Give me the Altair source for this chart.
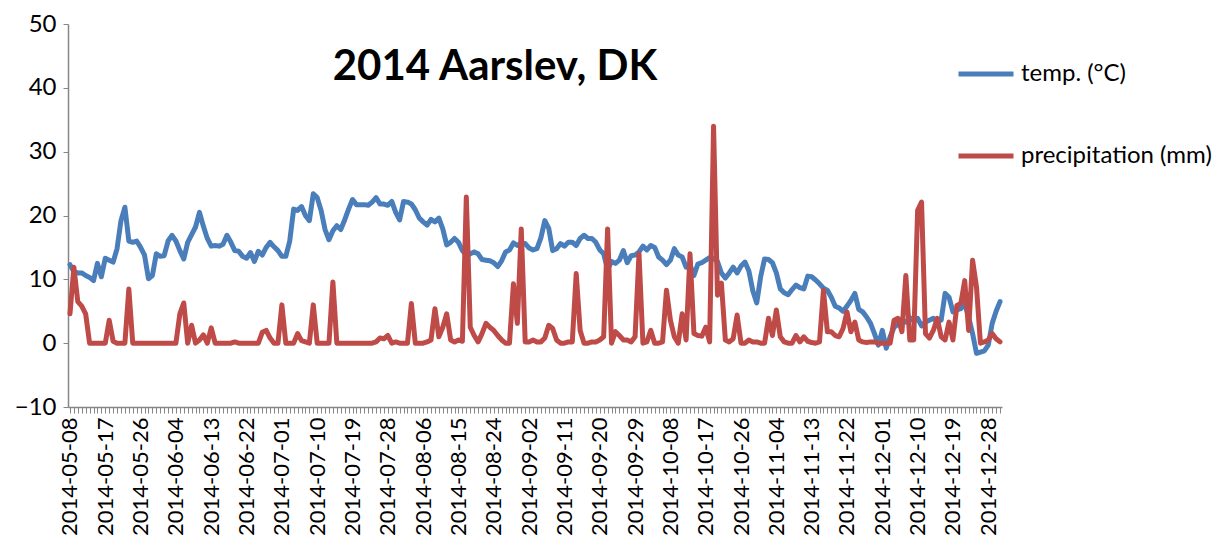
import altair as alt
import pandas as pd

# categories: daily dates 2014-05-08 .. 2014-12-31
dates = [d.strftime("%Y-%m-%d") for d in pd.date_range("2014-05-08", "2014-12-31", freq="D")]

temp = [
    12.3, 11.2, 11.0, 11.0, 10.6, 10.3, 9.8, 12.5, 10.4, 13.3, 13.0, 12.7, 14.8, 19.2, 21.3, 16.0, 15.8, 16.0, 15.0, 13.8,
    10.1, 10.6, 14.0, 13.6, 13.7, 16.0, 16.9, 16.0, 14.5, 13.2, 15.8, 17.0, 18.2, 20.5, 18.3, 16.4, 15.2, 15.3, 15.2, 15.5,
    16.9, 15.8, 14.5, 14.4, 13.6, 13.3, 14.2, 12.8, 14.4, 13.8, 15.0, 15.8, 15.1, 14.5, 13.6, 13.6, 16.0, 21.0, 20.8, 21.4,
    20.0, 19.2, 23.4, 22.8, 20.8, 17.8, 16.2, 17.6, 18.4, 17.8, 19.3, 21.0, 22.5, 21.7, 21.7, 21.7, 21.6, 22.1, 22.8, 21.8,
    21.8, 21.6, 22.2, 20.5, 19.3, 22.2, 22.1, 21.8, 20.9, 19.6, 19.0, 18.5, 19.4, 19.0, 19.6, 17.9, 15.4, 15.8, 16.4, 15.8,
    14.5, 13.8, 14.0, 14.3, 14.0, 13.1, 13.0, 12.9, 12.6, 12.0, 12.9, 14.3, 14.6, 15.7, 15.3, 15.6, 15.6, 14.9, 14.6, 14.8,
    16.5, 19.2, 18.0, 14.5, 14.8, 15.6, 15.2, 15.8, 15.8, 15.3, 16.4, 16.9, 16.4, 16.4, 15.8, 14.6, 14.0, 11.5, 12.8, 12.5,
    13.0, 14.5, 12.6, 13.7, 13.8, 14.3, 15.2, 14.6, 15.3, 15.0, 13.5, 13.0, 12.3, 13.0, 14.8, 13.8, 13.5, 11.9, 12.2, 10.6,
    12.4, 12.6, 13.0, 13.4, 13.3, 12.8, 11.0, 10.2, 11.0, 11.9, 11.0, 12.1, 12.7, 11.3, 8.2, 6.3, 10.4, 13.2, 13.1, 12.6,
    11.0, 8.5, 7.9, 7.6, 8.4, 9.1, 8.7, 8.5, 10.5, 10.4, 9.9, 9.3, 8.6, 8.3, 7.2, 5.8, 5.5, 5.0, 5.8,
    6.7, 7.8, 5.3, 4.9, 4.1, 3.1, 1.5, -0.3, 2.0, -0.8, 1.0, 2.5, 3.0, 3.5, 3.3, 4.0, 3.5, 3.9, 2.7, 3.3,
    3.6, 3.9, 3.4, 3.6, 7.8, 7.2, 4.9, 5.2, 5.4, 6.2, 4.1, 1.5, -1.6, -1.4, -1.2, -0.3, 3.1, 5.0, 6.5,
]

precip = [
    4.6, 11.9, 6.5, 5.8, 4.6, 0, 0, 0, 0, 0, 3.6, 0.3, 0, 0, 0, 8.5, 0, 0, 0, 0,
    0, 0, 0, 0, 0, 0, 0, 0, 4.6, 6.3, 0, 2.8, 0, 0.5, 1.3, 0, 2.4, 0, 0, 0,
    0, 0, 0.2, 0, 0, 0, 0, 0, 0, 1.7, 2.0, 0.8, 0, 0, 6.0, 0, 0, 0, 1.5, 0.4,
    0.2, 0, 6.0, 0, 0, 0, 0, 9.6, 0, 0, 0, 0, 0, 0, 0, 0, 0, 0, 0.2, 0.8,
    0.7, 1.2, 0, 0.2, 0, 0, 0, 6.2, 0, 0, 0, 0.2, 0.5, 5.4, 1.0, 2.5, 4.6, 0.5, 0.2, 0.5,
    0.3, 22.9, 2.5, 1.2, 0.2, 1.5, 3.1, 2.5, 2.0, 1.2, 0.5, 0, 0, 9.3, 3.1, 17.9, 0.2, 0.2, 0.5, 0.2,
    0.2, 0.8, 2.8, 2.3, 0.5, 0, 0, 0.2, 0.2, 10.9, 2.0, 0, 0, 0.2, 0.2, 0.5, 1.0, 17.9, 0, 1.8,
    1.2, 0.5, 0.5, 0.2, 1.0, 14.0, 0, 0.2, 2.0, 0, 0, 0.2, 8.3, 3.6, 1.0, 0, 4.6, 0.5, 14.0,
    1.5, 1.2, 1.1, 2.5, 0.2, 34.0, 7.5, 9.4, 0.5, 0.2, 0.7, 4.4, 0, 0, 0.5, 0.2, 0.2, 0, 0, 3.9,
    1.2, 5.2, 1.0, 0.2, 0, 0, 1.2, 0.2, 1.0, 0.3, 0.1, 0, 0.2, 8.3, 1.8, 1.8, 1.2, 1.0, 2.3, 4.9,
    1.8, 3.3, 0.5, 0.2, 0.1, 0.2, 0.2, 0, 0, 0, 0, 3.6, 3.9, 1.8, 10.6, 0.5, 0.5, 20.8, 22.1, 1.5,
    0.8, 2.0, 3.9, 1.0, 0.5, 3.3, 0.5, 5.9, 6.2, 9.8, 2.0, 13.0, 8.8, 0, 0.2, 0.5, 1.5, 0.7, 0.2,
]

tick_labels = [
    "2014-05-08", "2014-05-17", "2014-05-26", "2014-06-04", "2014-06-13", "2014-06-22",
    "2014-07-01", "2014-07-10", "2014-07-19", "2014-07-28", "2014-08-06", "2014-08-15",
    "2014-08-24", "2014-09-02", "2014-09-11", "2014-09-20", "2014-09-29", "2014-10-08",
    "2014-10-17", "2014-10-26", "2014-11-04", "2014-11-13", "2014-11-22", "2014-12-01",
    "2014-12-10", "2014-12-19", "2014-12-28",
]
y_ticks = [-10, 0, 10, 20, 30, 40, 50]
series_names = ["temp. (°C)", "precipitation (mm)"]
series_colors = ["#4A7EBB", "#BE4B48"]
chart_title = "2014 Aarslev, DK"

n = len(dates)
df_t = pd.DataFrame({"date": dates, "value": temp[:n], "series": series_names[0]})
df_p = pd.DataFrame({"date": dates, "value": precip[:n], "series": series_names[1]})

label_expr = ("indexof([" + ",".join("'" + t + "'" for t in tick_labels) +
              "], datum.value) >= 0 ? datum.label : ''")

FONT = "Lato"
AX = "#868686"

x_enc = alt.X(
    "date:O", sort=dates,
    scale=alt.Scale(type="point", padding=0.5),
    axis=alt.Axis(title=None, labelExpr=label_expr, labelAngle=270, labelAlign="right",
                  labelBaseline="middle", labelOverlap=False, labelFont=FONT, labelFontSize=22,
                  labelColor="black", labelPadding=4, tickSize=6, tickColor=AX, domainColor=AX,
                  domainWidth=1.5, tickWidth=1, labelLimit=0),
)
y_enc = alt.Y(
    "value:Q",
    scale=alt.Scale(domain=[-10, 50], nice=False, zero=False),
    axis=alt.Axis(title=None, values=y_ticks, grid=False, labelFont=FONT, labelFontSize=24,
                  labelColor="black", tickSize=5, labelPadding=7, tickColor=AX, domainColor=AX,
                  domainWidth=1.5),
)
color_enc = alt.Color(
    "series:N",
    scale=alt.Scale(domain=series_names, range=series_colors),
    legend=alt.Legend(title=None, orient="none", legendX=888, legendY=20, symbolType="stroke",
                      symbolSize=3025, symbolStrokeWidth=5, labelFont=FONT, labelFontSize=24,
                      labelColor="black", rowPadding=40, labelOffset=5, padding=0, labelLimit=0),
)

line_kw = dict(strokeWidth=5, strokeJoin="round", strokeCap="round")
blue = alt.Chart(df_t).mark_line(**line_kw).encode(x=x_enc, y=y_enc, color=color_enc)
red = alt.Chart(df_p).mark_line(**line_kw).encode(x=x_enc, y=y_enc, color=color_enc)

title = alt.Chart(pd.DataFrame({"t": [chart_title]})).mark_text(
    font=FONT, fontWeight="bold", fontSize=42, align="center", baseline="alphabetic", color="black"
).encode(x=alt.value(427), y=alt.value(56), text="t:N")

chart = alt.layer(blue, red, title).properties(
    width=934, height=383,
    autosize=alt.AutoSizeParams(type="none"),
    padding={"left": 60, "top": 16, "right": 222, "bottom": 134},
).configure_view(stroke=None)

chart.save("out.html", embed_options={"renderer": "svg", "actions": False})
